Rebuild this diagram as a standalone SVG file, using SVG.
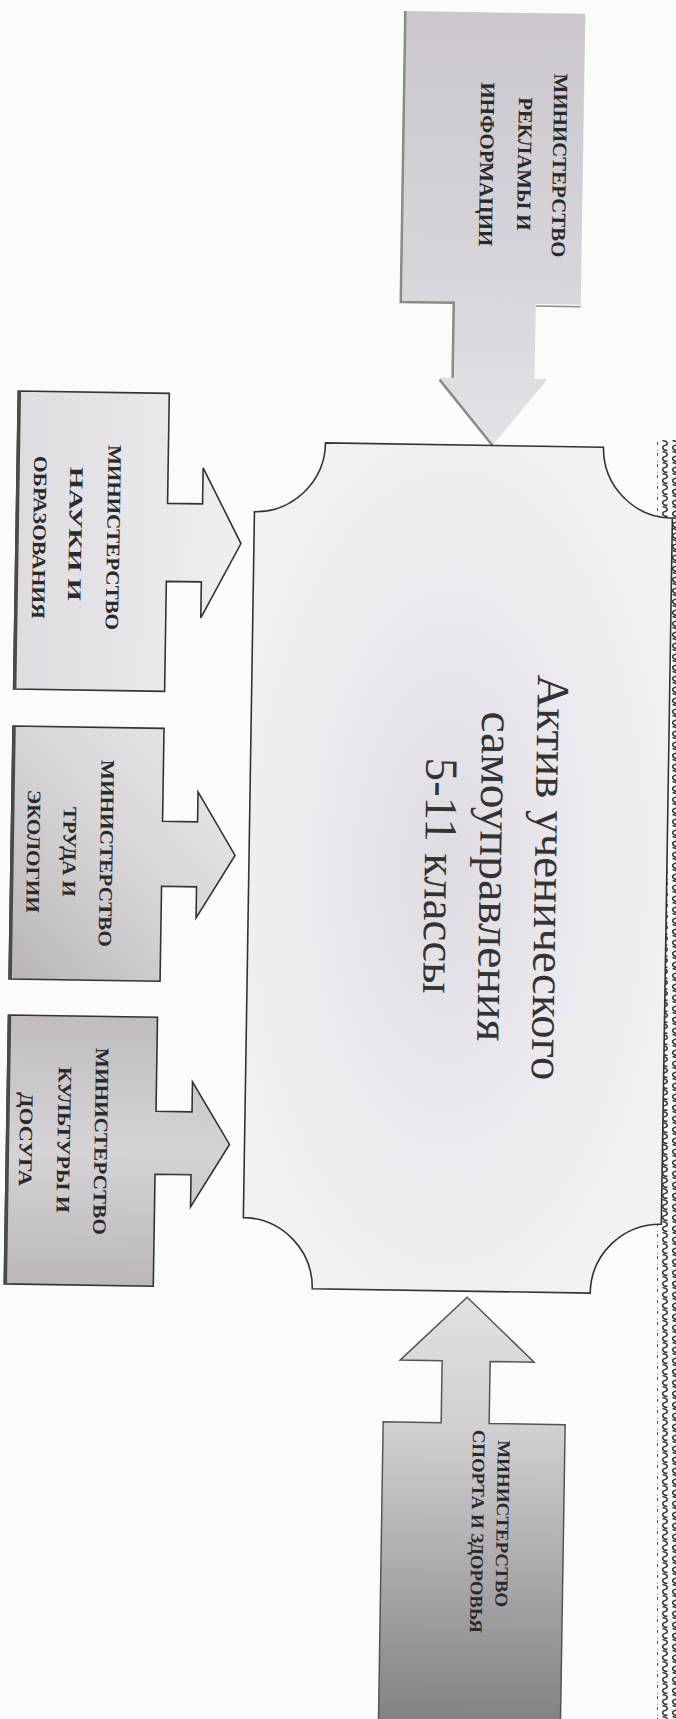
<svg xmlns="http://www.w3.org/2000/svg" width="676" height="1719" viewBox="0 0 676 1719">
<style>
.t{font-family:"Liberation Serif","Times New Roman",serif;font-weight:bold;font-size:19px;fill:#2a2a2a;text-anchor:middle}
.m{font-family:"Liberation Serif","Times New Roman",serif;font-size:46px;fill:#333;text-anchor:middle}
.o{stroke:#333;stroke-width:1.6;stroke-linejoin:miter}
.sh{fill:none;stroke:#4a4a4a;stroke-width:3.5}
</style>
<defs>
<radialGradient id="gMain" cx="0.48" cy="0.5" r="0.6">
<stop offset="0" stop-color="#dedce0"/><stop offset="0.5" stop-color="#ebe9ed"/><stop offset="1" stop-color="#f2f1f4"/>
</radialGradient>
<linearGradient id="gTop" x1="0" y1="0" x2="0" y2="1">
<stop offset="0" stop-color="#cbc7cc"/><stop offset="0.6" stop-color="#d8d5da"/><stop offset="1" stop-color="#e4e2e6"/>
</linearGradient>
<linearGradient id="gB1" x1="0" y1="0" x2="1" y2="0">
<stop offset="0" stop-color="#dedce0"/><stop offset="1" stop-color="#efeef1"/>
</linearGradient>
<linearGradient id="gB2" x1="1" y1="0" x2="0" y2="1">
<stop offset="0" stop-color="#ebe9ec"/><stop offset="0.5" stop-color="#d8d5d9"/><stop offset="1" stop-color="#b8b4b8"/>
</linearGradient>
<linearGradient id="gB3" x1="0" y1="0" x2="0" y2="1">
<stop offset="0" stop-color="#c0bcc0"/><stop offset="0.5" stop-color="#d6d3d7"/><stop offset="1" stop-color="#bbb7bb"/>
</linearGradient>
<linearGradient id="gBot" x1="0" y1="0" x2="0" y2="1">
<stop offset="0" stop-color="#e2e0e3"/><stop offset="0.3" stop-color="#d2cfd3"/><stop offset="1" stop-color="#7f7c7f"/>
</linearGradient>
<pattern id="wave" width="10" height="11" patternUnits="userSpaceOnUse">
<path d="M2.5 0.8 C8 0.5 8.5 5 5 5.5 C1.5 6 1.8 10.5 7.5 10.2" fill="none" stroke="#3a3a3a" stroke-width="1.6"/>
</pattern>
</defs>
<rect width="676" height="1719" fill="#fbfbfb"/>
<g id="page-border">
<rect x="657" y="440" width="20" height="1279" fill="url(#wave)"/>
</g>
<g transform="rotate(0.9 460 860)">
<g id="connectors">
<path d="M392 12 L572 12 L572 303 L527 303 L527 378 L540 378 L486 445 L432 378 L445 378 L445 303 L392 303 Z" fill="url(#gTop)"/>
<path d="M392 12 L392 303 L445 303 L445 378 M432 380 L486 445" fill="none" stroke="#8a8a8a" stroke-width="2.5"/>
<path d="M527 305 L572 305" fill="none" stroke="#8a8a8a" stroke-width="1.5"/>
<path class="o" d="M11 398 L162 398 L162 508 L197 508 L197 472 L236 547 L197 622 L197 586 L162 586 L162 696 L11 696 Z" fill="url(#gB1)"/>
<path class="o" d="M11 733 L162 733 L162 826 L197 826 L197 796 L235 859 L197 922 L197 891 L162 891 L162 986 L11 986 Z" fill="url(#gB2)"/>
<path class="o" d="M11 1022 L160 1022 L160 1116 L196 1116 L196 1086 L234 1148 L196 1211 L196 1179 L160 1179 L160 1291 L11 1291 Z" fill="url(#gB3)"/>
<path d="M474 1297 L542 1361 L498 1361 L498 1423 L574 1423 L574 1740 L392 1740 L392 1423 L450 1423 L450 1361 L408 1361 Z" fill="url(#gBot)" stroke="#555" stroke-width="1.5"/>
<path class="sh" d="M12 398 L12 696 M12 733 L12 986 M12 1022 L12 1291"/>
</g>
<g id="main">
<path class="o" d="M319 445 L597 445 A70 70 0 0 0 667 515 L667 1221 A70 70 0 0 0 597 1291 L319 1291 A70 70 0 0 0 249 1221 L249 515 A70 70 0 0 0 319 445 Z" fill="url(#gMain)"/>
<text class="m" transform="translate(535 876) rotate(90)" textLength="406" lengthAdjust="spacingAndGlyphs">Актив ученического</text>
<text class="m" transform="translate(480 876) rotate(90)" textLength="330" lengthAdjust="spacingAndGlyphs">самоуправления</text>
<text class="m" transform="translate(425 876) rotate(90)" textLength="236" lengthAdjust="spacingAndGlyphs">5-11 классы</text>
</g>
<g id="min-reklama">
<text class="t" style="font-size:20px" transform="translate(542 164) rotate(90)" textLength="184" lengthAdjust="spacingAndGlyphs">МИНИСТЕРСТВО</text>
<text class="t" style="font-size:20px" transform="translate(507 163) rotate(90)" textLength="133" lengthAdjust="spacingAndGlyphs">РЕКЛАМЫ И</text>
<text class="t" style="font-size:20px" transform="translate(469 164) rotate(90)" textLength="164" lengthAdjust="spacingAndGlyphs">ИНФОРМАЦИИ</text>
</g>
<g id="min-nauki">
<text class="t" transform="translate(102 543) rotate(90)" textLength="185" lengthAdjust="spacingAndGlyphs">МИНИСТЕРСТВО</text>
<text class="t" transform="translate(64 540) rotate(90)" textLength="134" lengthAdjust="spacingAndGlyphs">НАУКИ И</text>
<text class="t" transform="translate(28 544) rotate(90)" textLength="163" lengthAdjust="spacingAndGlyphs">ОБРАЗОВАНИЯ</text>
</g>
<g id="min-truda">
<text class="t" transform="translate(100 859) rotate(90)" textLength="187" lengthAdjust="spacingAndGlyphs">МИНИСТЕРСТВО</text>
<text class="t" transform="translate(63 858) rotate(90)" textLength="90" lengthAdjust="spacingAndGlyphs">ТРУДА И</text>
<text class="t" transform="translate(27 858) rotate(90)" textLength="123" lengthAdjust="spacingAndGlyphs">ЭКОЛОГИИ</text>
</g>
<g id="min-kultury">
<text class="t" transform="translate(99 1147) rotate(90)" textLength="187" lengthAdjust="spacingAndGlyphs">МИНИСТЕРСТВО</text>
<text class="t" transform="translate(62 1146) rotate(90)" textLength="146" lengthAdjust="spacingAndGlyphs">КУЛЬТУРЫ И</text>
<text class="t" transform="translate(24 1146) rotate(90)" textLength="94" lengthAdjust="spacingAndGlyphs">ДОСУГА</text>
</g>
<g id="min-sporta">
<text class="t" style="font-size:18px" transform="translate(507 1523) rotate(90)" textLength="167" lengthAdjust="spacingAndGlyphs">МИНИСТЕРСТВО</text>
<text class="t" style="font-size:18px" transform="translate(482 1531) rotate(90)" textLength="203" lengthAdjust="spacingAndGlyphs">СПОРТА И ЗДОРОВЬЯ</text>
</g>
</g>
</svg>
